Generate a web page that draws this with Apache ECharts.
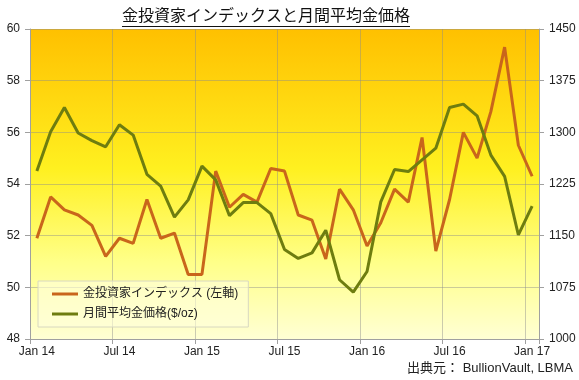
<!DOCTYPE html>
<html>
<head>
<meta charset="utf-8">
<script src="https://cdn.jsdelivr.net/npm/echarts@6/dist/echarts.min.js"></script>
<style>
html,body{margin:0;padding:0;background:#fff;}
#c{width:579px;height:380px;}
</style>
</head>
<body>
<div id="c"></div>
<script>
const months = [
  "Jan 14","Feb 14","Mar 14","Apr 14","May 14","Jun 14","Jul 14","Aug 14","Sep 14","Oct 14","Nov 14","Dec 14",
  "Jan 15","Feb 15","Mar 15","Apr 15","May 15","Jun 15","Jul 15","Aug 15","Sep 15","Oct 15","Nov 15","Dec 15",
  "Jan 16","Feb 16","Mar 16","Apr 16","May 16","Jun 16","Jul 16","Aug 16","Sep 16","Oct 16","Nov 16","Dec 16",
  "Jan 17"
];
const investorIndex = [
  51.9, 53.5, 53.0, 52.8, 52.4, 51.2, 51.9, 51.7, 53.4, 51.9, 52.1, 50.5,
  50.5, 54.5, 53.1, 53.6, 53.3, 54.6, 54.5, 52.8, 52.6, 51.1, 53.8, 53.0,
  51.6, 52.5, 53.8, 53.3, 55.8, 51.4, 53.4, 56.0, 55.0, 56.8, 59.3, 55.5,
  54.3
];
const goldPrice = [
  1244, 1301, 1336, 1299, 1288, 1279, 1311, 1296, 1239, 1222, 1177, 1202,
  1251, 1231, 1179, 1198, 1198, 1182, 1130, 1117, 1125, 1158, 1086, 1068,
  1098, 1199, 1246, 1243, 1260, 1277, 1336, 1341, 1324, 1267, 1236, 1151,
  1193
];
const leftTicks = {min: 48, max: 60, interval: 2};
const rightTicks = {min: 1000, max: 1450, interval: 75};
const seriesNames = ["金投資家インデックス (左軸)", "月間平均金価格($/oz)"];
const titleText = "金投資家インデックスと月間平均金価格";
const sourceText = "出典元： BullionVault, LBMA";

const font = "'Liberation Sans', Arial, sans-serif";
const cjk = "'Liberation Sans', 'Noto Sans CJK JP', sans-serif";

const titleSize = 16;
const titleCx = 266;
const mctx = document.createElement('canvas').getContext('2d');
mctx.font = titleSize + "px " + cjk;
const titleW = mctx.measureText(titleText).width;

const chart = echarts.init(document.getElementById('c'), null, {renderer: 'canvas'});
chart.setOption({
  animation: false,
  backgroundColor: '#ffffff',
  grid: {
    left: 30, right: 40, top: 29, bottom: 41,
    show: true,
    borderWidth: 0,
    backgroundColor: new echarts.graphic.LinearGradient(0, 0, 0, 1, [
      {offset: 0, color: '#FFC000'},
      {offset: 0.45, color: '#FFF020'},
      {offset: 0.75, color: '#FFFF88'},
      {offset: 1, color: '#FFFFD4'}
    ])
  },
  legend: {
    orient: 'vertical',
    left: 38, top: 281,
    data: seriesNames,
    icon: 'rect',
    itemWidth: 26, itemHeight: 3,
    itemGap: 8,
    padding: [7, 10, 7, 14],
    backgroundColor: 'rgba(255,255,220,0.6)',
    borderColor: '#d8d8c0', borderWidth: 1,
    textStyle: {fontFamily: cjk, fontSize: 12, color: '#222'}
  },
  xAxis: {
    type: 'category',
    data: months,
    boundaryGap: true,
    axisLine: {show: true, lineStyle: {color: '#a0a0a0'}},
    axisTick: {show: true, interval: 5, length: 5, lineStyle: {color: '#a0a0a0'}},
    axisLabel: {interval: 5, margin: 7, color: '#222', fontFamily: font, fontSize: 12},
    splitLine: {show: true, interval: 5, lineStyle: {color: 'rgba(140,140,140,0.45)', width: 1}}
  },
  yAxis: [
    {
      type: 'value', min: leftTicks.min, max: leftTicks.max, interval: leftTicks.interval,
      position: 'left',
      axisLine: {show: true, lineStyle: {color: '#a0a0a0'}},
      axisTick: {show: true, length: 5, lineStyle: {color: '#a0a0a0'}},
      axisLabel: {margin: 10, color: '#222', fontFamily: font, fontSize: 12},
      splitLine: {show: true, lineStyle: {color: 'rgba(140,140,140,0.45)', width: 1}}
    },
    {
      type: 'value', min: rightTicks.min, max: rightTicks.max, interval: rightTicks.interval,
      position: 'right',
      axisLine: {show: true, lineStyle: {color: '#a0a0a0'}},
      axisTick: {show: true, length: 5, lineStyle: {color: '#a0a0a0'}},
      axisLabel: {margin: 10, color: '#222', fontFamily: font, fontSize: 12, formatter: v => String(v)},
      splitLine: {show: false}
    }
  ],
  series: [
    {
      name: seriesNames[0], type: 'line', yAxisIndex: 0, data: investorIndex,
      symbol: 'none', lineStyle: {color: '#C9661B', width: 3}, itemStyle: {color: '#C9661B'}
    },
    {
      name: seriesNames[1], type: 'line', yAxisIndex: 1, data: goldPrice,
      symbol: 'none', lineStyle: {color: '#6E7D0F', width: 3}, itemStyle: {color: '#6E7D0F'}
    }
  ],
  graphic: [
    {type: 'text', x: titleCx, y: 17, style: {text: titleText, fontFamily: cjk, fontSize: titleSize, fill: '#111', align: 'center', verticalAlign: 'middle'}},
    {type: 'line', shape: {x1: titleCx - titleW / 2, y1: 26.5, x2: titleCx + titleW / 2, y2: 26.5}, style: {stroke: '#111', lineWidth: 1}},
    {type: 'text', right: 6, top: 362, style: {text: sourceText, fontFamily: cjk, fontSize: 13, fill: '#222'}}
  ]
});
</script>
</body>
</html>
